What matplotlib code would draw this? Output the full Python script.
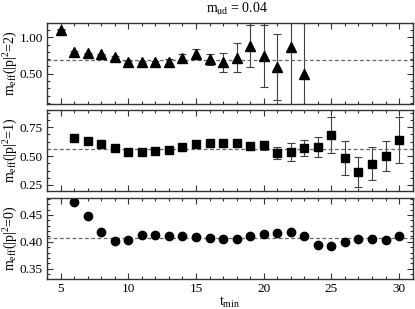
import numpy as np
import matplotlib
matplotlib.use("Agg")
import matplotlib.pyplot as plt
from matplotlib.ticker import MultipleLocator

plt.rcParams['font.family'] = ['Liberation Serif', 'DejaVu Serif']
plt.rcParams['mathtext.default'] = 'regular'

# |p|^2 = 2
t2 = [5, 6, 7, 8, 9, 10, 11, 12, 13, 14, 15, 16, 17, 18, 19, 20, 21, 22, 23]
m2 = [1.105, 0.795, 0.778, 0.765, 0.730, 0.663, 0.655, 0.659, 0.659, 0.712,
      0.774, 0.700, 0.655, 0.720, 0.885, 0.743, 0.589, 0.867, 0.500]
e2 = [0.01, 0.01, 0.01, 0.01, 0.01, 0.015, 0.015, 0.02, 0.04, 0.055,
      0.062, 0.075, 0.133, 0.195, 0.29, 0.42, 0.455, 0.9, 0.69]
fit2 = 0.685

# |p|^2 = 1
t1 = list(range(6, 31))
m1 = [0.654, 0.631, 0.608, 0.567, 0.538, 0.538, 0.544, 0.552, 0.576, 0.605,
      0.617, 0.613, 0.613, 0.584, 0.593, 0.529, 0.535, 0.570, 0.578, 0.680,
      0.486, 0.361, 0.434, 0.500, 0.639]
e1 = [0.008, 0.008, 0.008, 0.008, 0.008, 0.008, 0.01, 0.01, 0.012, 0.012,
      0.015, 0.015, 0.02, 0.032, 0.039, 0.054, 0.075, 0.068, 0.087, 0.155,
      0.148, 0.13, 0.142, 0.13, 0.199]
fit1 = 0.565

# |p|^2 = 0
t0 = list(range(6, 31))
m0 = [0.4746, 0.448, 0.4187, 0.401, 0.403, 0.4125, 0.413, 0.4106, 0.4106, 0.409,
      0.407, 0.405, 0.4056, 0.410, 0.415, 0.416, 0.419, 0.410, 0.395, 0.3925,
      0.399, 0.405, 0.405, 0.4026, 0.4106]
e0 = [0.002] * 25
fit0 = 0.408

fig = plt.figure(figsize=(4.15, 3.09), dpi=100)
left, width = 0.1133, 0.881
ax1 = fig.add_axes([left, 0.665, width, 0.2615])
ax2 = fig.add_axes([left, 0.3828, width, 0.2615])
ax3 = fig.add_axes([left, 0.0971, width, 0.2615])

panels = [
    (ax1, t2, m2, e2, fit2, '^', 6.5, (0.09, 1.2), 0.5, 0.1, r'm$_{eff}$(|p|$^2$=2)'),
    (ax2, t1, m1, e1, fit1, 's', 5.3, (0.2, 0.9), 0.25, 0.0625, r'm$_{eff}$(|p|$^2$=1)'),
    (ax3, t0, m0, e0, fit0, 'o', 6.0, (0.331, 0.481), 0.05, 0.01, r'm$_{eff}$(|p|$^2$=0)'),
]

for ax, t, m, e, fit, mk, ms, yl, maj, mnr, lab in panels:
    ax.errorbar(t, m, yerr=e, fmt=mk, color='black', ms=ms, ecolor='0.25',
                elinewidth=0.8, capsize=3, capthick=0.8)
    ax.axhline(fit, color='0.4', lw=0.9, dashes=(3, 2))
    ax.set_xlim(4, 31)
    ax.set_ylim(*yl)
    ax.xaxis.set_major_locator(MultipleLocator(5))
    ax.xaxis.set_minor_locator(MultipleLocator(1))
    ax.yaxis.set_major_locator(MultipleLocator(maj))
    ax.yaxis.set_minor_locator(MultipleLocator(mnr))
    ax.yaxis.set_major_formatter(matplotlib.ticker.FormatStrFormatter('%.2f'))
    ax.tick_params(which='both', direction='in', top=True, right=True,
                   labelsize=9.5, color='0.2', pad=3)
    ax.tick_params(which='major', length=4.5, width=0.8)
    ax.tick_params(which='minor', length=2.5, width=0.8)
    for s in ax.spines.values():
        s.set_color('0.2')
        s.set_linewidth(1.0)
    ax.set_ylabel(lab, fontsize=10)
    ax.yaxis.set_label_coords(-0.075, 0.5)

ax1.tick_params(labelbottom=False)
ax2.tick_params(labelbottom=False)
ax3.set_xlabel(r't$_{min}$', fontsize=10, labelpad=0)
fig.text(0.572, 0.958, r'm$_{ud}$ = 0.04', ha='center', fontsize=10)

fig.savefig('out.png', dpi=100)
